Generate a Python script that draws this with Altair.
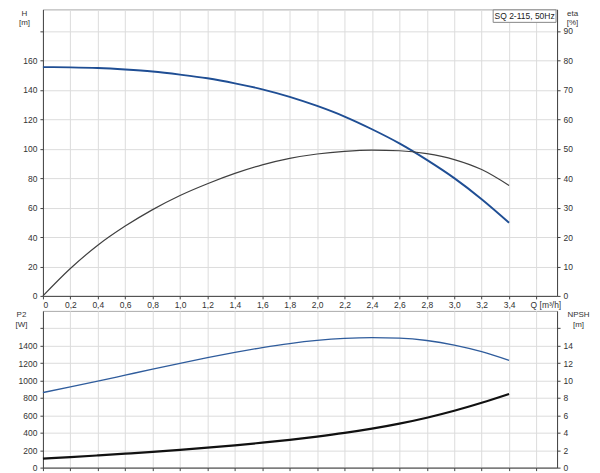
import altair as alt
import pandas as pd

# ---- data ----
Q = [0.0, 0.2, 0.4, 0.6, 0.8, 1.0, 1.2, 1.4, 1.6, 1.8, 2.0, 2.2, 2.4, 2.6, 2.8, 3.0, 3.2, 3.4]
H = [155.4, 155.25, 154.8, 153.8, 152.4, 150.3, 147.8, 144.4, 140.3, 135.2, 129.0, 121.8, 113.2, 103.6, 92.4, 80.0, 65.7, 49.7]
ETA = [0.0, 9.3, 17.2, 23.7, 29.3, 34.1, 38.1, 41.6, 44.5, 46.7, 48.2, 49.1, 49.5, 49.3, 48.3, 46.3, 42.9, 37.5]
P2 = [862, 926, 993, 1062, 1131, 1198, 1263, 1323, 1378, 1425, 1461, 1484, 1493, 1487, 1460, 1408, 1332, 1232]
NPSH = [1.03, 1.21, 1.40, 1.60, 1.81, 2.04, 2.29, 2.56, 2.86, 3.19, 3.56, 3.98, 4.47, 5.05, 5.73, 6.53, 7.45, 8.46]

Q_TICKS = [0, 0.2, 0.4, 0.6, 0.8, 1.0, 1.2, 1.4, 1.6, 1.8, 2.0, 2.2, 2.4, 2.6, 2.8, 3.0, 3.2, 3.4, 3.6]
H_TICKS = [0, 20, 40, 60, 80, 100, 120, 140, 160, 180]
ETA_TICKS = [0, 10, 20, 30, 40, 50, 60, 70, 80, 90]
P2_TICKS = [0, 200, 400, 600, 800, 1000, 1200, 1400, 1600]
NPSH_TICKS = [0, 2, 4, 6, 8, 10, 12, 14, 16]
LEGEND = ["SQ 2-115, 50Hz"]

df = pd.DataFrame({"Q": Q, "H": H, "eta": ETA, "P2": P2, "NPSH": NPSH})
leg = pd.DataFrame({"label": LEGEND})

FONT = "Liberation Sans"
W = 515
HT = 287
HB = 157
AX = "#444444"
GRID = "#dcdcdc"
BLUE = "#1f4e94"

xscale = alt.Scale(domain=[0, 3.75], nice=False, zero=False)

q_label = ("datum.value == 0 ? '0' : (datum.value > 3.5 ? '' : "
           "replace(format(datum.value, '.1f'), '.', ','))")

TITLE_KW = dict(titleAngle=0, titleAlign="center", titleY=0, titleBaseline="top",
                titleFontWeight="normal", titleFontSize=8, titleLineHeight=9.5)

x_top = alt.X(
    "Q:Q", scale=xscale,
    axis=alt.Axis(values=Q_TICKS, labelExpr=q_label, grid=True, tickSize=3,
                  labelPadding=2, title="Q [m³/h]", titleX=488, titleY=12,
                  titleAlign="left", titleBaseline="alphabetic",
                  titleFontWeight="normal", titleFontSize=8.5),
)
x_bot = alt.X(
    "Q:Q", scale=xscale,
    axis=alt.Axis(values=Q_TICKS, labels=False, grid=True, tickSize=3, title=None),
)

h_line = alt.Chart(df).mark_line(color=BLUE, strokeWidth=1.9, interpolate="monotone").encode(
    x=x_top,
    y=alt.Y("H:Q", scale=alt.Scale(domain=[0, 194.6], nice=False),
            axis=alt.Axis(values=H_TICKS, format="d", grid=True, orient="left",
                          labelExpr="datum.value > 170 ? '' : datum.label",
                          tickSize=3, labelPadding=3,
                          title=["H", "[m]"], titleX=-19, **TITLE_KW)),
)
eta_line = alt.Chart(df).mark_line(color="#404040", strokeWidth=1.2, interpolate="monotone").encode(
    x=x_top,
    y=alt.Y("eta:Q", scale=alt.Scale(domain=[0, 97.3], nice=False),
            axis=alt.Axis(values=ETA_TICKS, format="d", grid=False, orient="right",
                          tickSize=3, labelPadding=3,
                          title=["eta", "[%]"], titleX=15, **TITLE_KW)),
)
leg_box = alt.Chart(leg).mark_rect(fill="white", stroke="#888888", strokeWidth=1).encode(
    x=alt.value(451), x2=alt.value(514), y=alt.value(0.5), y2=alt.value(13)
)
leg_text = alt.Chart(leg).mark_text(font=FONT, fontSize=8.5, color="#222", align="center",
                                    baseline="middle").encode(
    x=alt.value(482.5), y=alt.value(7), text="label:N"
)

top = alt.layer(h_line, eta_line, leg_box, leg_text).resolve_scale(y="independent").properties(
    width=W, height=HT
)

p2_line = alt.Chart(df).mark_line(color="#2f5c9c", strokeWidth=1.3, interpolate="monotone").encode(
    x=x_bot,
    y=alt.Y("P2:Q", scale=alt.Scale(domain=[0, 1800], nice=False),
            axis=alt.Axis(values=P2_TICKS, format="d", grid=True, orient="left",
                          labelExpr="datum.value > 1500 ? '' : datum.label",
                          tickSize=3, labelPadding=3,
                          title=["P2", "[W]"], titleX=-22, **TITLE_KW)),
)
npsh_line = alt.Chart(df).mark_line(color="#111111", strokeWidth=2.2, interpolate="monotone").encode(
    x=x_bot,
    y=alt.Y("NPSH:Q", scale=alt.Scale(domain=[0, 18], nice=False),
            axis=alt.Axis(values=NPSH_TICKS, format="d", grid=False, orient="right",
                          labelExpr="datum.value > 15 ? '' : datum.label",
                          tickSize=3, labelPadding=3,
                          title=["NPSH", "[m]"], titleX=21, **TITLE_KW)),
)
bottom = alt.layer(p2_line, npsh_line).resolve_scale(y="independent").properties(
    width=W, height=HB
)

chart = alt.vconcat(top, bottom, spacing=15, bounds="flush").properties(
    padding={"left": 6, "top": 0, "right": 2, "bottom": 0}
).configure_view(
    stroke="#aaaaaa", strokeWidth=1
).configure_axis(
    labelFont=FONT, titleFont=FONT, labelFontSize=8.5, labelColor="#333333",
    titleColor="#333333", domainColor=AX, tickColor=AX, gridColor=GRID,
    gridWidth=1, domainWidth=1,
)

chart.save("out.html", embed_options={"renderer": "svg", "actions": False})
